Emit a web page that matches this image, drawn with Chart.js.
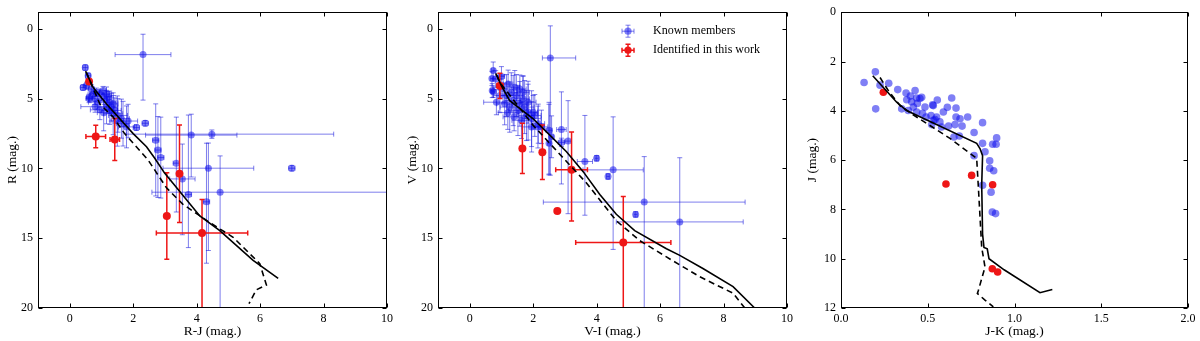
<!DOCTYPE html>
<html><head><meta charset="utf-8">
<script src="https://cdn.jsdelivr.net/npm/chart.js@4.4.1/dist/chart.umd.min.js"></script>
<style>
html,body{margin:0;padding:0;background:#fff;width:1200px;height:341px;overflow:hidden}
.p{position:absolute;top:0;width:400px;height:341px}
</style></head><body>
<div class="p" style="left:0"><canvas id="c1" width="400" height="341"></canvas></div>
<div class="p" style="left:400px"><canvas id="c2" width="400" height="341"></canvas></div>
<div class="p" style="left:800px"><canvas id="c3" width="400" height="341"></canvas></div>
<script>
// ---------- Panel 1: R vs R-J ----------
const rjKnownX = [0.49,0.58,0.42,0.53,0.68,0.74,0.84,0.95,1.05,1.16,1.10,1.21,1.26,1.37,1.31,1.42,1.37,1.52,1.63,1.84,1.68,1.79,2.10,2.38,0.79,0.89,0.63,0.80,1.16,1.26,0.61,1.07,0.95,1.50,
  2.31,2.71,2.78,2.87,3.36,3.55,3.74,3.83,4.48,4.37,4.31,4.74,7.00];
const rjKnownY = [2.77,3.36,4.20,4.07,4.30,4.66,4.54,4.66,4.42,4.66,5.01,4.89,5.25,5.37,5.60,5.84,6.08,6.20,6.43,6.60,6.79,7.02,7.07,6.76,5.01,5.25,4.89,5.57,5.60,5.84,4.98,6.00,5.80,6.60,
  1.84,7.97,8.68,9.22,9.62,10.75,11.87,7.61,7.54,9.98,12.39,11.70,9.98];
const rjKnownXerr = [0.08,0.08,0.08,0.08,0.1,0.1,0.1,0.1,0.1,0.15,0.1,0.1,0.2,0.15,0.2,0.2,0.3,0.3,0.25,0.3,0.2,0.25,0.1,0.1,0.2,0.3,0.1,0.45,0.3,0.25,0.1,0.2,0.3,0.2,
  0.88,0.1,0.1,0.1,0.1,0.4,0.1,1.44,[2.7,3.84],1.43,0.1,[2.15,6.0],0.1];
const rjKnownYerr = [0.2,0.2,0.2,0.25,0.3,0.3,0.3,0.3,0.3,0.5,0.4,0.4,0.8,0.6,1.0,0.9,1.5,1.2,1.4,1.2,1.6,1.5,0.2,0.2,0.4,0.5,0.3,0.4,1.2,1.0,0.3,1.3,0.7,1.8,
  [1.46,3.26],[2.6,4.0],[2.4,3.4],[2.9,2.9],[3.3,3.5],[2.5,4.0],[5.7,3.8],[1.5,3.0],0.3,[1.8,5.9],[4.2,4.4],[2.6,9.0],0.2];
const rjNewX = [0.61,0.82,1.42,3.06,3.46,4.17];
const rjNewY = [3.77,7.71,7.92,13.40,10.38,14.62];
const rjNewXerr = [0.05,0.31,0.15,0.05,0.05,1.44];
const rjNewYerr = [0.1,0.8,1.5,3.1,3.5,[2.4,6.0]];
const rjSolidX = [0.50,0.74,1.16,2.00,2.42,2.68,2.99,4.10,4.73,5.78,6.57];
const rjSolidY = [3.02,4.20,5.38,7.50,8.44,9.27,10.33,13.40,14.46,16.58,17.88];
const rjDashX = [0.52,0.95,1.37,1.73,2.47,3.05,3.57,4.41,5.15,5.99,6.20,5.88,5.65];
const rjDashY = [3.10,5.38,6.32,7.50,9.39,11.39,12.57,13.87,14.93,16.82,18.35,18.70,19.69];

// ---------- Panel 2: V vs V-I ----------
const viKnownX = [0.74,0.71,0.70,0.82,1.00,1.05,1.21,1.16,1.31,1.42,1.37,1.47,1.58,1.52,1.68,1.73,1.84,1.79,1.95,2.05,2.16,1.95,2.26,1.26,1.10,1.63,0.95,0.84,1.68,1.84,1.58,0.74,2.00,2.15,1.20,1.40,
  2.54,2.50,2.89,2.50,2.58,2.89,3.10,3.63,4.00,4.36,4.52,5.50,5.23,6.62];
const viKnownY = [2.97,4.42,3.56,3.59,3.40,4.30,3.95,4.77,4.54,4.18,5.13,4.77,5.37,5.84,5.01,5.60,5.96,6.20,6.43,6.20,6.79,7.02,7.02,5.60,5.37,6.55,4.77,5.25,4.54,5.25,4.30,4.50,5.97,7.03,6.00,6.30,
  2.08,7.26,7.21,8.20,7.73,8.13,8.04,9.50,9.27,10.57,10.10,12.41,13.29,13.83];
const viKnownXerr = [0.05,0.05,0.05,0.1,0.1,0.15,0.15,0.2,0.2,0.15,0.25,0.2,0.25,0.3,0.2,0.3,0.3,0.25,0.3,0.2,0.2,0.3,0.2,0.3,0.25,0.3,0.2,0.4,0.2,0.25,0.2,0.05,0.15,0.2,0.3,0.35,
  [0.25,0.8],0.1,0.15,0.05,0.05,0.1,0.1,0.24,0.05,0.05,0.95,3.18,0.05,2.0];
const viKnownYerr = [0.6,0.5,0.5,0.6,0.7,1.0,1.0,1.5,1.4,1.2,1.8,1.5,1.6,1.8,1.6,1.9,2.0,1.8,2.0,1.5,1.4,1.8,1.2,1.8,1.5,1.3,1.2,0.9,1.2,1.5,1.0,0.4,1.2,1.5,1.2,1.0,
  [2.3,8.4],[2.0,3.2],[2.7,3.9],[2.8,2.2],1.5,0.3,[2.9,5.2],[3.3,3.85],0.2,0.2,[3.8,5.7],[3.26,7.6],0.2,[4.6,6.2]];
const viNewX = [0.95,1.66,2.29,3.21,2.76,4.84];
const viNewY = [4.08,8.56,8.84,10.09,13.05,15.30];
const viNewXerr = [0.1,0.05,0.05,0.5,0.05,1.5];
const viNewYerr = [0.9,1.8,1.95,[2.7,3.67],0.1,[3.3,5.0]];
const viSolidX = [0.82,1.00,1.26,2.00,2.42,3.05,3.57,4.10,4.62,5.20,6.20,6.62,7.35,8.30,8.98];
const viSolidY = [3.18,4.08,5.14,6.44,7.38,8.80,10.21,11.86,13.28,14.46,15.75,16.23,17.17,18.47,20.00];
const viDashX = [0.85,0.95,2.00,3.05,3.68,4.62,5.36,6.20,7.25,8.30,8.67];
const viDashY = [3.30,3.84,6.91,9.50,11.04,13.75,15.17,16.34,17.76,18.94,20.00];

// ---------- Panel 3: J vs J-K ----------
const jkKnownX = [0.198,0.133,0.225,0.275,0.200,0.327,0.375,0.427,0.436,0.465,0.555,0.638,0.532,0.484,0.590,0.663,0.350,0.417,0.436,0.388,0.490,0.532,0.551,0.570,0.523,0.580,0.620,0.663,0.686,0.698,0.657,0.730,0.816,0.767,0.651,0.682,0.816,0.897,0.874,0.894,0.830,0.767,0.857,0.857,0.880,0.816,0.865,0.872,0.891,0.379,0.407,0.455,0.528,0.613,0.519,0.542,0.440,0.470,0.400];
const jkKnownY = [2.42,2.85,2.96,2.88,3.92,3.14,3.28,3.18,3.48,3.45,3.56,3.48,3.79,3.85,4.05,3.89,3.92,3.85,4.05,3.99,4.25,4.39,4.25,4.45,4.56,4.66,4.62,4.25,4.32,4.62,4.56,4.25,4.48,4.88,5.06,5.02,5.32,5.10,5.36,5.36,5.66,5.82,6.03,6.33,6.43,7.02,7.30,8.11,8.17,3.55,3.63,3.50,3.76,3.86,4.19,4.35,3.70,4.10,3.40];
const jkNewX = [0.244,0.605,0.753,0.874,0.872,0.903];
const jkNewY = [3.25,6.97,6.62,7.00,10.41,10.54];
const jkSolidX = [0.183,0.321,0.378,0.782,0.801,0.816,0.811,0.816,0.824,0.843,0.853,0.940,1.147,1.218];
const jkSolidY = [2.58,3.65,3.99,5.32,5.53,5.82,7.00,9.00,9.54,9.60,10.00,10.45,11.38,11.25];
const jkDashX = [0.225,0.273,0.340,0.407,0.628,0.782,0.792,0.811,0.830,0.792,0.786,0.830,0.878];
const jkDashY = [2.65,3.18,3.79,4.12,5.12,5.93,7.13,9.54,10.34,11.28,11.41,11.68,11.95];

// ---------- tick labels ----------
const colorTicks = [0,2,4,6,8,10];
const magTicks = [0,5,10,15,20];
const jkTicks = [0.0,0.5,1.0,1.5,2.0];
const jTicks = [0,2,4,6,8,10,12];

const legendLabels = ['Known members','Identified in this work'];

// ---------- helpers ----------
const FONT = "'Liberation Serif','Times New Roman',serif";
const BLUE = 'rgba(10,10,235,0.52)';
const BLUE_ERR = 'rgba(20,20,220,0.55)';
const RED = 'rgb(238,22,22)';

function pts(xs, ys){ return xs.map((x,i)=>({x:x, y:ys[i]})); }
function errs(e){ return e.map(v => Array.isArray(v) ? v : [v, v]); }

const errorBarPlugin = {
  id: 'errbars',
  beforeDatasetDraw(chart, args) {
    const ds = chart.data.datasets[args.index];
    if (!ds.errX) return;
    const ctx = chart.ctx, a = chart.chartArea, sx = chart.scales.x, sy = chart.scales.y;
    ctx.save();
    ctx.beginPath(); ctx.rect(a.left, a.top, a.right - a.left, a.bottom - a.top); ctx.clip();
    ctx.strokeStyle = ds.errColor; ctx.lineWidth = ds.errWidth;
    const cap = 2.5;
    ds.data.forEach((p, i) => {
      const ex = ds.errX[i], ey = ds.errY[i];
      const px = sx.getPixelForValue(p.x), py = sy.getPixelForValue(p.y);
      const x0 = sx.getPixelForValue(p.x - ex[0]), x1 = sx.getPixelForValue(p.x + ex[1]);
      const y0 = sy.getPixelForValue(p.y - ey[0]), y1 = sy.getPixelForValue(p.y + ey[1]);
      ctx.beginPath();
      ctx.moveTo(x0, py); ctx.lineTo(x1, py);
      ctx.moveTo(x0, py - cap); ctx.lineTo(x0, py + cap);
      ctx.moveTo(x1, py - cap); ctx.lineTo(x1, py + cap);
      ctx.moveTo(px, y0); ctx.lineTo(px, y1);
      ctx.moveTo(px - cap, y0); ctx.lineTo(px + cap, y0);
      ctx.moveTo(px - cap, y1); ctx.lineTo(px + cap, y1);
      ctx.stroke();
    });
    ctx.restore();
  }
};

const framePlugin = {
  id: 'frame',
  afterDraw(chart) {
    const ctx = chart.ctx, a = chart.chartArea, sx = chart.scales.x, sy = chart.scales.y;
    const L = Math.round(a.left) + 0.5, R = Math.round(a.right) - 0.5;
    const T = Math.round(a.top) + 0.5, B = Math.round(a.bottom) - 0.5;
    ctx.save();
    ctx.strokeStyle = '#000'; ctx.lineWidth = 1;
    ctx.strokeRect(L, T, R - L, B - T);
    const tl = 4;
    ctx.beginPath();
    sx.ticks.forEach(t => {
      const x = Math.round(sx.getPixelForValue(t.value)) + 0.5;
      ctx.moveTo(x, B); ctx.lineTo(x, B - tl);
      ctx.moveTo(x, T); ctx.lineTo(x, T + tl);
    });
    sy.ticks.forEach(t => {
      const y = Math.round(sy.getPixelForValue(t.value)) + 0.5;
      ctx.moveTo(L, y); ctx.lineTo(L + tl, y);
      ctx.moveTo(R, y); ctx.lineTo(R - tl, y);
    });
    ctx.stroke();
    ctx.restore();
  }
};

function drawErrIcon(ctx, x, y, color, lw) {
  ctx.save();
  ctx.strokeStyle = color; ctx.lineWidth = lw;
  const h = 6, c = 2.5;
  ctx.beginPath();
  ctx.moveTo(x - h, y); ctx.lineTo(x + h, y);
  ctx.moveTo(x - h, y - c); ctx.lineTo(x - h, y + c);
  ctx.moveTo(x + h, y - c); ctx.lineTo(x + h, y + c);
  ctx.moveTo(x, y - h); ctx.lineTo(x, y + h);
  ctx.moveTo(x - c, y - h); ctx.lineTo(x + c, y - h);
  ctx.moveTo(x - c, y + h); ctx.lineTo(x + c, y + h);
  ctx.stroke();
  ctx.fillStyle = color === RED ? RED : BLUE;
  ctx.beginPath(); ctx.arc(x, y, 3.6, 0, Math.PI * 2); ctx.fill();
  ctx.restore();
}

const legendPlugin = {
  id: 'customLegend',
  afterDraw(chart) {
    const ctx = chart.ctx;
    const a = chart.chartArea;
    const mx = a.left + 190, tx = a.left + 215;
    const ys = [a.top + 19, a.top + 38];
    drawErrIcon(ctx, mx, ys[0], BLUE_ERR, 1);
    drawErrIcon(ctx, mx, ys[1], RED, 1.5);
    ctx.save();
    ctx.fillStyle = '#000';
    ctx.font = "12px " + FONT;
    ctx.textBaseline = 'middle';
    ctx.textAlign = 'left';
    ctx.fillText(legendLabels[0], tx, ys[0]);
    ctx.fillText(legendLabels[1], tx, ys[1]);
    ctx.restore();
  }
};

function makePanel(id, cfg) {
  const datasets = [
    { data: pts(cfg.solidX, cfg.solidY), showLine: true, pointRadius: 0, borderColor: '#000', borderWidth: 1.6, fill: false },
    { data: pts(cfg.dashX, cfg.dashY), showLine: true, pointRadius: 0, borderColor: '#000', borderWidth: 1.6, borderDash: [6, 4], fill: false },
    { data: pts(cfg.newX, cfg.newY), pointRadius: cfg.rNew, backgroundColor: RED, borderWidth: 0, pointBorderWidth: 0,
      errX: cfg.newXerr ? errs(cfg.newXerr) : null, errY: cfg.newYerr ? errs(cfg.newYerr) : null, errColor: RED, errWidth: 1.5 },
    { data: pts(cfg.knownX, cfg.knownY), pointRadius: cfg.rKnown, backgroundColor: BLUE, borderWidth: 0, pointBorderWidth: 0,
      errX: cfg.knownXerr ? errs(cfg.knownXerr) : null, errY: cfg.knownYerr ? errs(cfg.knownYerr) : null, errColor: BLUE_ERR, errWidth: 1 }
  ];
  const plugins = [errorBarPlugin, framePlugin];
  if (cfg.legend) plugins.push(legendPlugin);
  return new Chart(document.getElementById(id), {
    type: 'scatter',
    data: { datasets: datasets },
    plugins: plugins,
    options: {
      responsive: false, animation: false, devicePixelRatio: 1, events: [],
      layout: { padding: { top: 9, right: cfg.padRight, left: 0, bottom: 0 } },
      plugins: { legend: { display: false }, tooltip: { enabled: false } },
      scales: {
        x: {
          type: 'linear', min: cfg.xMin, max: cfg.xMax,
          afterBuildTicks: s => { s.ticks = cfg.xTicks.map(v => ({ value: v })); },
          afterFit: s => { s.height = 33; },
          grid: { display: false, drawTicks: false }, border: { display: false },
          ticks: { padding: 4, color: '#000', font: { family: FONT, size: 12 }, maxRotation: 0, autoSkip: false,
                   callback: v => cfg.xFmt ? Number(v).toFixed(1) : String(v) },
          title: { display: true, text: cfg.xTitle, color: '#000', font: { family: FONT, size: 13.5 }, padding: { top: 0, bottom: 1 } }
        },
        y: {
          type: 'linear', reverse: true, min: cfg.yMin, max: cfg.yMax,
          afterBuildTicks: s => { s.ticks = cfg.yTicks.map(v => ({ value: v })); },
          afterFit: s => { s.width = cfg.yWidth; },
          grid: { display: false, drawTicks: false }, border: { display: false },
          ticks: { padding: 5, color: '#000', font: { family: FONT, size: 12 }, autoSkip: false,
                   callback: v => String(v) },
          title: { display: true, text: cfg.yTitle, color: '#000', font: { family: FONT, size: 13.5 }, padding: { top: 4, bottom: 0 } }
        }
      }
    }
  });
}

makePanel('c1', {
  knownX: rjKnownX, knownY: rjKnownY, knownXerr: rjKnownXerr, knownYerr: rjKnownYerr,
  newX: rjNewX, newY: rjNewY, newXerr: rjNewXerr, newYerr: rjNewYerr,
  solidX: rjSolidX, solidY: rjSolidY, dashX: rjDashX, dashY: rjDashY,
  xMin: -1, xMax: 10, yMin: -1.2, yMax: 20, xTicks: colorTicks, yTicks: magTicks,
  xTitle: 'R-J (mag.)', yTitle: 'R (mag.)', yWidth: 38, padRight: 13, rKnown: 3.5, rNew: 4
});
makePanel('c2', {
  knownX: viKnownX, knownY: viKnownY, knownXerr: viKnownXerr, knownYerr: viKnownYerr,
  newX: viNewX, newY: viNewY, newXerr: viNewXerr, newYerr: viNewYerr,
  solidX: viSolidX, solidY: viSolidY, dashX: viDashX, dashY: viDashY,
  xMin: -1, xMax: 10, yMin: -1.2, yMax: 20, xTicks: colorTicks, yTicks: magTicks,
  xTitle: 'V-I (mag.)', yTitle: 'V (mag.)', yWidth: 38, padRight: 13, rKnown: 3.5, rNew: 4, legend: true
});
makePanel('c3', {
  knownX: jkKnownX, knownY: jkKnownY,
  newX: jkNewX, newY: jkNewY,
  solidX: jkSolidX, solidY: jkSolidY, dashX: jkDashX, dashY: jkDashY,
  xMin: 0, xMax: 2, yMin: 0, yMax: 12, xTicks: jkTicks, yTicks: jTicks, xFmt: true,
  xTitle: 'J-K (mag.)', yTitle: 'J (mag.)', yWidth: 41, padRight: 12, rKnown: 3.8, rNew: 3.8
});
</script>
</body></html>
